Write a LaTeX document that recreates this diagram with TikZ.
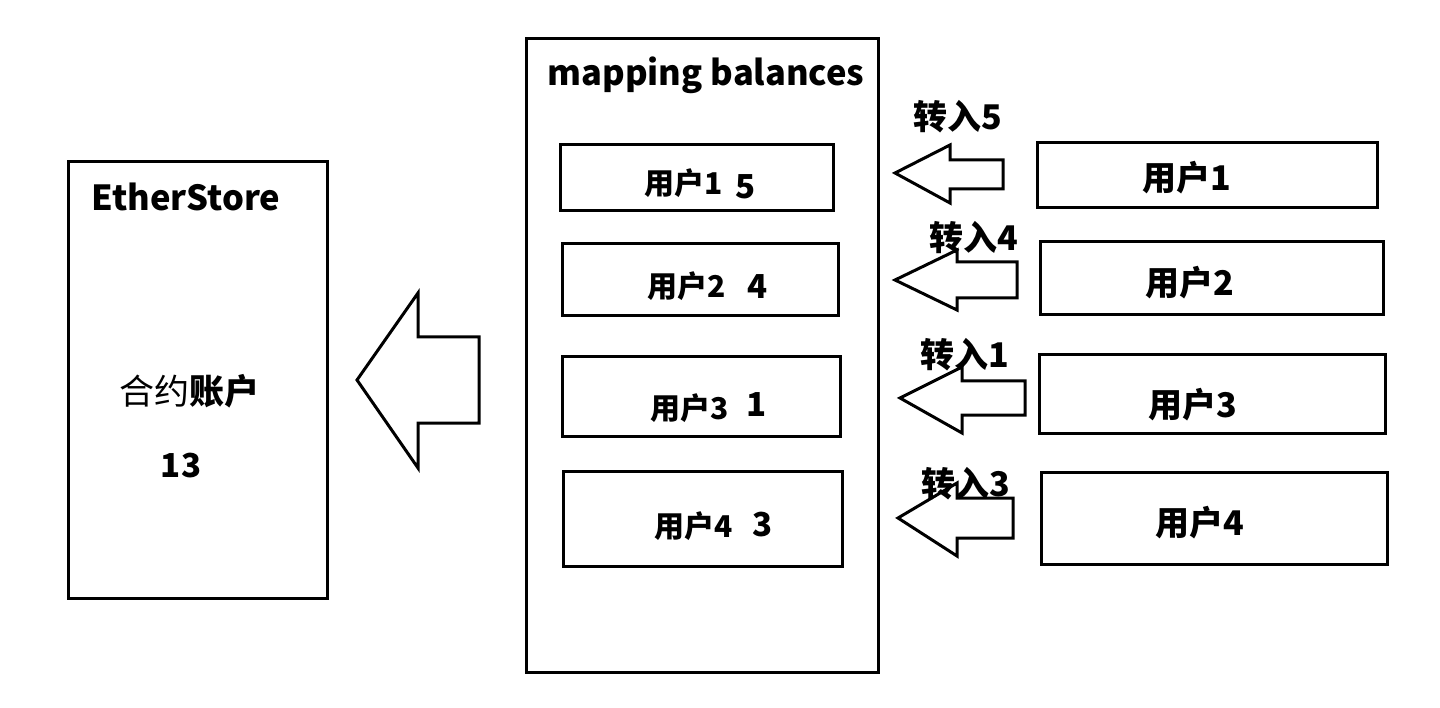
\documentclass[tikz,border=0pt]{standalone}
\usepackage{fontspec}
\setmainfont{Noto Sans CJK SC}
\begin{document}
\begin{tikzpicture}[x=1pt,y=-1pt,line width=3pt,
  box/.style={draw,line join=miter},
  blk/.style={draw,line join=miter},
  lbl/.style={inner sep=0pt,anchor=west,font=\fontsize{34}{38}\selectfont\bfseries},
  ilbl/.style={inner sep=0pt,anchor=west,font=\fontsize{30}{34}\selectfont\bfseries},
  ttl/.style={inner sep=0pt,font=\fontsize{34.5}{38}\selectfont\bfseries},
  num/.style={inner sep=0pt,font=\fontsize{33}{38}\selectfont\bfseries}]
\useasboundingbox (0,0) rectangle (1440,708);
% EtherStore
\draw[box] (68,162) rectangle (327,598);
\node[ttl] (es) at (186,197) {EtherStore};
\node[inner sep=0pt,font=\fontsize{35}{38}\selectfont] (acct) at (189,391) {合约{\bfseries 账户}};
\node[num] (tot) at (181,466) {13};
% big arrow
\draw[blk] (357,380) -- (418,293) -- (418,337) -- (479,337) -- (479,423) -- (418,423) -- (418,468) -- cycle;
% mapping
\draw[box] (526,39) rectangle (878,672);
\node[ttl] (mb) at (706,75) {mapping balances};
\draw[box] (560,145) rectangle (833,211);
\draw[box] (562,244) rectangle (838,316);
\draw[box] (562,357) rectangle (840,436);
\draw[box] (563,471) rectangle (842,566);
\node[ilbl] (m1) at (643,183) {用户1};
\node[num] (v1) at (746,187) {5};
\node[ilbl] (m2) at (646,286) {用户2};
\node[num] (v2) at (758,287) {4};
\node[ilbl] (m3) at (649,408) {用户3};
\node[num] (v3) at (757,405) {1};
\node[ilbl] (m4) at (653,526) {用户4};
\node[num] (v4) at (763,525) {3};
% small arrows
\draw[blk] (895,173) -- (950,145) -- (950,160) -- (1003,160) -- (1003,189) -- (950,189) -- (950,203) -- cycle;
\draw[blk] (895,280) -- (957,250) -- (957,262) -- (1017,262) -- (1017,298) -- (957,298) -- (957,310) -- cycle;
\draw[blk] (900,398) -- (962,367) -- (962,381) -- (1025,381) -- (1025,415) -- (962,415) -- (962,433) -- cycle;
\draw[blk] (898,518) -- (957,483) -- (957,498) -- (1013,498) -- (1013,538) -- (957,538) -- (957,556) -- cycle;
\node[lbl] (t1) at (912,117) {转入5};
\node[lbl] (t2) at (928,238) {转入4};
\node[lbl] (t3) at (919,355) {转入1};
\node[lbl] (t4) at (920,484) {转入3};
% right users
\draw[box] (1037,143) rectangle (1377,208);
\draw[box] (1040,242) rectangle (1383,315);
\draw[box] (1039,355) rectangle (1385,433);
\draw[box] (1041,472) rectangle (1387,564);
\node[lbl] (u1) at (1141,178) {用户1};
\node[lbl] (u2) at (1144,283) {用户2};
\node[lbl] (u3) at (1147,405) {用户3};
\node[lbl] (u4) at (1154,523) {用户4};
\end{tikzpicture}
\end{document}
